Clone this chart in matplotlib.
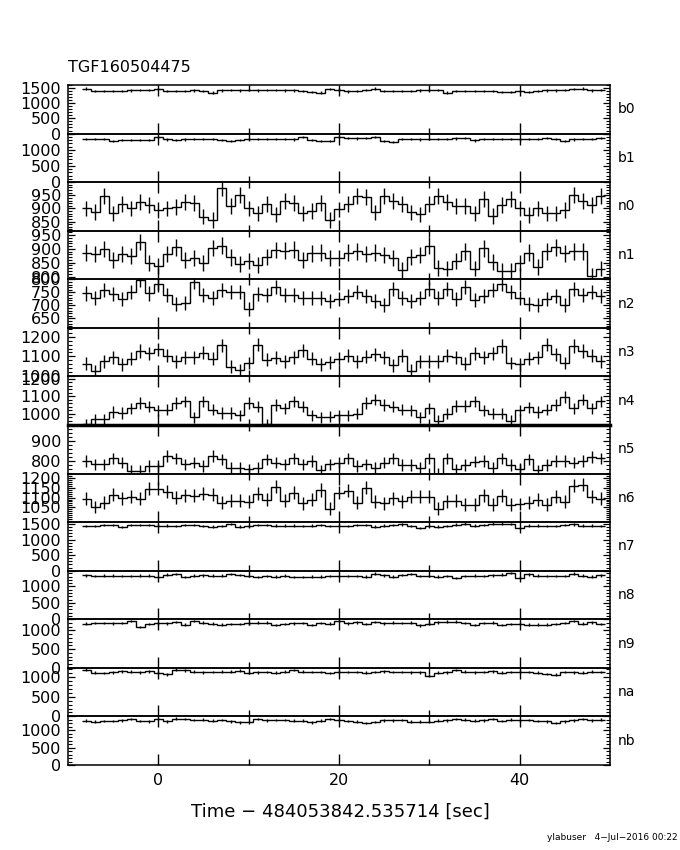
import numpy as np
import matplotlib
matplotlib.use("Agg")
import matplotlib.pyplot as plt
from matplotlib.ticker import FixedLocator

plt.rcParams['font.family'] = ['DejaVu Sans']

title = "TGF160504475"
xlabel = "Time \u2212 484053842.535714 [sec]"
footer = "ylabuser   4\u2212Jul\u22122016 00:22"

# bin centres (s)
times = list(range(-8, 50))

detectors = ["b0", "b1", "n0", "n1", "n2", "n3", "n4", "n5", "n6",
             "n7", "n8", "n9", "na", "nb"]

b0 = [1480, 1400, 1400, 1410, 1400, 1420, 1430, 1430, 1470, 1400,
      1400, 1410, 1420, 1400, 1350, 1420, 1430, 1420, 1430, 1420,
      1440, 1430, 1420, 1420, 1410, 1380, 1350, 1460, 1450, 1390,
      1400, 1430, 1480, 1400, 1400, 1410, 1410, 1420, 1420, 1430,
      1350, 1400, 1400, 1410, 1400, 1410, 1360, 1370, 1400, 1360,
      1410, 1420, 1420, 1430, 1460, 1480, 1420, 1440]
b1 = [1340, 1340, 1340, 1260, 1310, 1310, 1310, 1310, 1390, 1320,
      1310, 1320, 1330, 1330, 1340, 1300, 1270, 1300, 1320, 1340,
      1330, 1330, 1340, 1320, 1390, 1310, 1280, 1260, 1400, 1370,
      1350, 1360, 1390, 1280, 1230, 1340, 1330, 1320, 1330, 1330,
      1340, 1350, 1370, 1290, 1330, 1340, 1340, 1330, 1320, 1330,
      1340, 1360, 1330, 1280, 1320, 1340, 1340, 1360]
n0 = [900, 887, 946, 881, 916, 900, 925, 912, 894, 900,
      906, 925, 919, 869, 856, 979, 909, 950, 900, 881,
      916, 877, 929, 919, 881, 890, 921, 856, 896, 916,
      946, 944, 885, 946, 929, 916, 885, 877, 916, 946,
      925, 909, 909, 881, 937, 871, 912, 937, 900, 875,
      900, 881, 881, 894, 950, 929, 912, 946]
n1 = [887, 881, 900, 860, 881, 875, 925, 850, 837, 881,
      906, 860, 866, 850, 904, 912, 869, 846, 856, 841,
      871, 896, 894, 897, 860, 884, 887, 866, 866, 887,
      891, 881, 887, 879, 866, 825, 871, 879, 912, 831,
      829, 856, 891, 829, 902, 852, 819, 821, 850, 887,
      834, 891, 906, 884, 891, 891, 802, 829]
n2 = [746, 727, 759, 743, 723, 750, 797, 746, 781, 741,
      706, 710, 790, 739, 727, 759, 750, 750, 686, 743,
      741, 770, 741, 741, 727, 727, 730, 717, 723, 737,
      750, 737, 717, 703, 763, 730, 717, 727, 763, 727,
      763, 723, 770, 720, 737, 759, 783, 750, 727, 706,
      701, 723, 737, 700, 763, 741, 750, 735]
n3 = [1063, 1025, 1076, 1095, 1060, 1087, 1127, 1115, 1135, 1103,
      1076, 1095, 1095, 1119, 1087, 1156, 1047, 1031, 1066, 1160,
      1082, 1092, 1076, 1095, 1131, 1087, 1060, 1071, 1087, 1103,
      1076, 1098, 1111, 1095, 1055, 1103, 1027, 1076, 1076, 1076,
      1103, 1095, 1063, 1115, 1095, 1115, 1152, 1066, 1060, 1087,
      1095, 1160, 1111, 1066, 1152, 1127, 1103, 1076]
n4 = [940, 970, 970, 1010, 1004, 1030, 1060, 1040, 1020, 1024,
      1060, 1070, 980, 1070, 1024, 1004, 1004, 990, 1060, 1040,
      940, 1050, 1030, 1070, 1040, 990, 980, 984, 990, 990,
      1000, 1060, 1080, 1050, 1040, 1024, 1020, 980, 1030, 960,
      1000, 1044, 1044, 1070, 1020, 1000, 1000, 960, 1020, 1036,
      1010, 1024, 1050, 1096, 1030, 1080, 1030, 1070]
n5 = [800, 783, 783, 813, 792, 750, 750, 775, 775, 825,
      813, 783, 792, 775, 825, 808, 767, 767, 758, 767,
      808, 792, 783, 813, 783, 800, 753, 783, 792, 813,
      775, 783, 767, 792, 813, 780, 780, 767, 813, 737,
      813, 758, 780, 797, 800, 767, 813, 780, 758, 808,
      753, 780, 800, 800, 792, 800, 820, 813]
n6 = [1094, 1052, 1074, 1115, 1097, 1105, 1094, 1145, 1145, 1130,
      1100, 1112, 1109, 1120, 1115, 1074, 1085, 1085, 1079, 1120,
      1089, 1155, 1085, 1124, 1070, 1089, 1139, 1044, 1124, 1135,
      1074, 1150, 1079, 1070, 1097, 1082, 1105, 1105, 1105, 1044,
      1082, 1085, 1064, 1064, 1112, 1064, 1109, 1064, 1067, 1074,
      1089, 1064, 1105, 1079, 1161, 1165, 1105, 1094]
n7 = [1440, 1440, 1470, 1460, 1400, 1470, 1470, 1460, 1450, 1450,
      1440, 1460, 1470, 1440, 1420, 1440, 1500, 1420, 1440, 1460,
      1470, 1450, 1450, 1450, 1440, 1450, 1460, 1430, 1450, 1440,
      1460, 1470, 1420, 1450, 1470, 1490, 1440, 1370, 1440, 1420,
      1440, 1480, 1510, 1450, 1460, 1510, 1510, 1500, 1380, 1450,
      1450, 1440, 1430, 1460, 1490, 1450, 1450, 1440]
n8 = [1340, 1320, 1330, 1330, 1320, 1320, 1330, 1330, 1280, 1360,
      1380, 1290, 1330, 1340, 1330, 1330, 1380, 1350, 1320, 1290,
      1310, 1300, 1330, 1280, 1290, 1300, 1300, 1310, 1310, 1320,
      1320, 1300, 1390, 1340, 1300, 1350, 1380, 1320, 1320, 1300,
      1310, 1260, 1320, 1330, 1320, 1340, 1360, 1410, 1270, 1370,
      1330, 1310, 1320, 1320, 1390, 1330, 1300, 1340]
n9 = [1180, 1200, 1200, 1190, 1200, 1250, 1100, 1170, 1190, 1190,
      1230, 1160, 1250, 1210, 1180, 1160, 1170, 1170, 1190, 1210,
      1210, 1150, 1170, 1190, 1200, 1150, 1200, 1180, 1250, 1190,
      1220, 1170, 1230, 1190, 1210, 1200, 1210, 1140, 1180, 1220,
      1240, 1240, 1200, 1150, 1200, 1210, 1150, 1170, 1180, 1160,
      1160, 1160, 1170, 1200, 1250, 1180, 1220, 1170]
na = [1190, 1110, 1100, 1120, 1150, 1140, 1120, 1150, 1110, 1070,
      1190, 1170, 1140, 1120, 1130, 1140, 1140, 1160, 1110, 1120,
      1130, 1110, 1140, 1180, 1140, 1130, 1130, 1100, 1140, 1130,
      1130, 1110, 1130, 1150, 1130, 1130, 1120, 1120, 1040, 1110,
      1120, 1180, 1140, 1120, 1130, 1150, 1110, 1130, 1140, 1130,
      1110, 1080, 1060, 1130, 1120, 1110, 1140, 1130]
nb = [1270, 1240, 1260, 1260, 1280, 1320, 1260, 1250, 1320, 1250,
      1330, 1320, 1290, 1300, 1270, 1290, 1250, 1220, 1220, 1310,
      1280, 1290, 1290, 1270, 1270, 1220, 1270, 1310, 1290, 1260,
      1240, 1210, 1230, 1280, 1280, 1290, 1240, 1240, 1240, 1270,
      1280, 1310, 1300, 1270, 1280, 1310, 1260, 1300, 1280, 1290,
      1260, 1250, 1200, 1250, 1280, 1320, 1280, 1300]

series = [b0, b1, n0, n1, n2, n3, n4, n5, n6, n7, n8, n9, na, nb]

ylims = [(0, 1600), (0, 1500), (815, 1000), (790, 966), (614, 800),
         (998, 1245), (936, 1212), (737, 980), (975, 1222),
         (0, 1560), (0, 1480), (0, 1300), (0, 1235), (0, 1390)]
yticks = [[0, 500, 1000, 1500], [0, 500, 1000], [850, 900, 950],
          [800, 850, 900, 950], [650, 700, 750, 800], [1000, 1100, 1200],
          [1000, 1100, 1200], [800, 900], [1050, 1100, 1150, 1200],
          [0, 500, 1000, 1500], [0, 500, 1000], [0, 500, 1000],
          [0, 500, 1000], [0, 500, 1000]]
yminor = [100, 100, 10, 10, 10, 20, 20, 20, 10, 100, 100, 100, 100, 100]

W, H = 680, 850
fig = plt.figure(figsize=(W / 100, H / 100), dpi=100)
left, right = 68 / W, 610 / W
top, bottom = 1 - 85 / H, 1 - 765 / H
n = len(series)
ph = (top - bottom) / n

t = np.array(times, dtype=float)
edges = np.append(t - 0.5, t[-1] + 0.5)

for i, (name, vals) in enumerate(zip(detectors, series)):
    y0 = top - (i + 1) * ph
    ax = fig.add_axes([left, y0, right - left, ph])
    v = np.array(vals, dtype=float)
    ax.stairs(v, edges, baseline=None, color='k', lw=1.0)
    ax.errorbar(t, v, yerr=np.sqrt(v), fmt='none', ecolor='k',
                elinewidth=1.0, capsize=0)
    ax.set_xlim(-10, 50)
    ax.set_ylim(*ylims[i])
    ax.set_yticks(yticks[i])
    ax.yaxis.set_minor_locator(FixedLocator(
        np.arange(ylims[i][0] - ylims[i][0] % yminor[i], ylims[i][1] + 1, yminor[i])))
    ax.set_xticks([0, 20, 40])
    ax.xaxis.set_minor_locator(FixedLocator([10, 30]))
    ax.tick_params(axis='both', which='both', direction='in',
                   top=True, right=True, colors='k')
    ax.tick_params(axis='x', which='major', length=8, width=1.0)
    ax.tick_params(axis='x', which='minor', length=4.5, width=1.0)
    ax.tick_params(axis='y', which='major', length=5, width=0.9,
                   labelsize=11.5, pad=5)
    ax.tick_params(axis='y', which='minor', length=2.8, width=0.8)
    for s in ax.spines.values():
        s.set_linewidth(1.1)
    if name == "n4":
        ax.spines['bottom'].set_linewidth(2.5)
    if i < n - 1:
        ax.tick_params(axis='x', labelbottom=False)
    else:
        ax.tick_params(axis='x', labelsize=11.5, pad=6)
    ax.patch.set_alpha(0)
    fig.text(618 / W, y0 + ph / 2, name, ha='left', va='center', fontsize=10)

fig.text(68 / W, 1 - 68 / H, title, ha='left', va='center', fontsize=11.5)
fig.text(340 / W, 1 - 812 / H, xlabel, ha='center', va='center', fontsize=13)
fig.text(678 / W, 1 - 838 / H, footer, ha='right', va='center', fontsize=6.5)

fig.savefig("out.png", dpi=100)
